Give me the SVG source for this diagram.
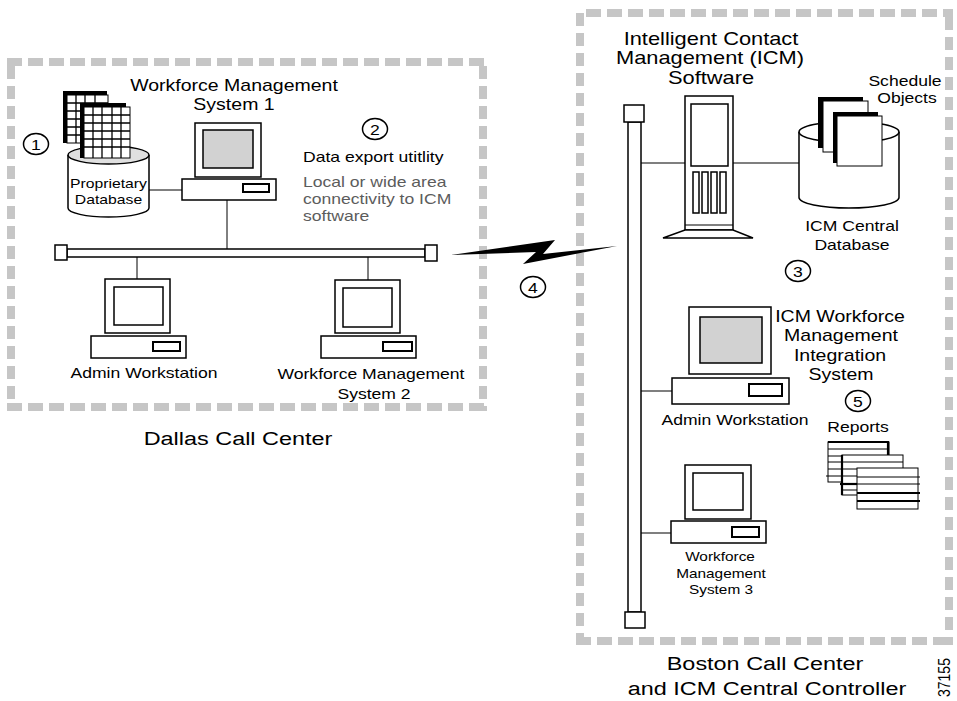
<svg xmlns="http://www.w3.org/2000/svg" width="957" height="701" viewBox="0 0 957 701">
  <style>
    text { font-family: "Liberation Sans", Arial, Helvetica, sans-serif; fill: #000; }
    .t19 { font-size: 19.2px; text-anchor: middle; }
    .t18 { font-size: 17.9px; text-anchor: middle; }
    .t16 { font-size: 16px; text-anchor: middle; }
    .t14 { font-size: 14.4px; text-anchor: middle; }
    .t13 { font-size: 12.9px; text-anchor: middle; }
    .t12 { font-size: 12.6px; text-anchor: middle; }
    .start { text-anchor: start; }
    .grey { fill: #5c5c5c; }
    .num { font-size: 14.4px; text-anchor: middle; }
    .zone-h { stroke: #c6c6c6; stroke-width: 8; stroke-dasharray: 15 6; fill: none; }
    .zone-v { stroke: #c6c6c6; stroke-width: 8; stroke-dasharray: 13 7; fill: none; }
    .box { fill: #fff; stroke: #000; stroke-width: 1.5; }
    .screen-grey { fill: #d2d2d2; stroke: #000; stroke-width: 1.5; }
    .slot { fill: #fff; stroke: #000; stroke-width: 2; }
    .grid { stroke: #000; stroke-width: 1.3; fill: none; }
    .wire { stroke: #000; stroke-width: 1; fill: none; }
    .wire-b { stroke: #555; stroke-width: 1.5; fill: none; }
    .badge { fill: #fff; stroke: #000; stroke-width: 1.5; }
    .sheet-line { stroke: #000; stroke-width: 1; }
    .sheet-thick { stroke: #000; stroke-width: 2.2; }
  </style>

  <!-- site boundaries -->
  <g id="dallas-zone">
    <line class="zone-h" x1="7" y1="62" x2="487" y2="62"/>
    <line class="zone-h" x1="7" y1="407" x2="487" y2="407"/>
    <line class="zone-v" x1="11" y1="66" x2="11" y2="411"/>
    <line class="zone-v" x1="483" y1="66" x2="483" y2="411"/>
    <text class="t19" transform="translate(238 445) scale(1.22 1)">Dallas Call Center</text>
  </g>
  <g id="boston-zone">
    <line class="zone-h" x1="586" y1="13" x2="953" y2="13"/>
    <line class="zone-h" x1="576" y1="641" x2="953" y2="641"/>
    <line class="zone-v" x1="580" y1="13" x2="580" y2="645"/>
    <line class="zone-v" x1="949" y1="17" x2="949" y2="645"/>
    <text class="t19" transform="translate(765 670) scale(1.22 1)">Boston Call Center</text>
    <text class="t19" transform="translate(767 695) scale(1.22 1)">and ICM Central Controller</text>
  </g>

  <!-- connectors -->
  <g id="connectors">
    <line class="wire" x1="227" y1="200" x2="227" y2="249"/>
    <line class="wire" x1="137" y1="257" x2="137" y2="279"/>
    <line class="wire" x1="368" y1="257" x2="368" y2="280"/>
    <line class="wire" x1="149" y1="190" x2="182" y2="190"/>
    <line class="wire-b" x1="641" y1="163" x2="685" y2="163"/>
    <line class="wire-b" x1="733" y1="163" x2="799" y2="163"/>
    <line class="wire-b" x1="641" y1="391" x2="672" y2="391"/>
    <line class="wire-b" x1="641" y1="533" x2="671" y2="533"/>
    <!-- WAN link -->
    <polygon points="451,255 555,240 543,254 617,246 523,264 536,252" fill="#000"/>
  </g>

  <!-- LAN segments -->
  <g id="dallas-lan">
    <rect class="box" x="67" y="249" width="358" height="8"/>
    <rect class="box" x="55" y="245" width="12" height="15"/>
    <rect class="box" x="425" y="245" width="12" height="16"/>
  </g>
  <g id="boston-lan">
    <rect class="box" x="628" y="122" width="13" height="490"/>
    <rect class="box" x="624" y="105" width="20" height="17"/>
    <rect class="box" x="625" y="612" width="20" height="16"/>
  </g>

  <!-- Proprietary database with schedule grids -->
  <g id="proprietary-db">
    <path class="box" d="M68,155 V208 A40.5,9 0 0 0 149,208 V155"/>
    <ellipse cx="108.5" cy="155" rx="40.5" ry="9" fill="#e0e0e0" stroke="#000" stroke-width="1.5"/>
    <rect x="63" y="91" width="44" height="52" fill="#000"/>
    <rect x="67" y="95" width="41" height="48" fill="#fff" stroke="#000" stroke-width="1"/>
    <path class="grid" d="M76,95 V143 M85,95 V143 M95,95 V143 M67,103 H108 M67,111 H108 M67,119 H108 M67,127 H108 M67,135 H108"/>
    <rect x="80" y="103" width="46" height="55" fill="#000"/>
    <rect x="84" y="107" width="46" height="51" fill="#fff" stroke="#000" stroke-width="1"/>
    <path class="grid" d="M93,107 V158 M102,107 V158 M112,107 V158 M121,107 V158 M84,115 H130 M84,123 H130 M84,131 H130 M84,139 H130 M84,147 H130"/>
    <text class="t13" transform="translate(108.5 188) scale(1.22 1)">Proprietary</text>
    <text class="t13" transform="translate(108.5 204) scale(1.22 1)">Database</text>
  </g>
  <g id="badge-1">
    <ellipse class="badge" cx="36" cy="144" rx="12.5" ry="10.5"/>
    <text class="num" transform="translate(36 149.5) scale(1.22 1)">1</text>
  </g>

  <!-- Workforce Management System 1 -->
  <g id="wfm-system-1">
    <text class="t16" transform="translate(234 91) scale(1.22 1)">Workforce Management</text>
    <text class="t16" transform="translate(234 110) scale(1.22 1)">System 1</text>
    <rect class="box" x="195" y="123" width="66" height="54"/>
    <rect class="screen-grey" x="203" y="130" width="50" height="38"/>
    <rect class="box" x="182" y="179" width="94" height="21"/>
    <rect class="slot" x="243" y="184" width="26" height="8"/>
  </g>

  <g id="data-export">
    <ellipse class="badge" cx="375" cy="129" rx="12.5" ry="10.5"/>
    <text class="num" transform="translate(375 134.5) scale(1.22 1)">2</text>
    <text class="t14 start" transform="translate(303 162) scale(1.22 1)">Data export utitlity</text>
    <text class="t14 start grey" transform="translate(303 187) scale(1.22 1)">Local or wide area</text>
    <text class="t14 start grey" transform="translate(303 204) scale(1.22 1)">connectivity to ICM</text>
    <text class="t14 start grey" transform="translate(303 221) scale(1.22 1)">software</text>
  </g>

  <!-- Dallas Admin Workstation -->
  <g id="dallas-admin">
    <rect class="box" x="105" y="279" width="65" height="54"/>
    <rect class="box" x="114" y="287" width="49" height="38"/>
    <rect class="box" x="91" y="336" width="95" height="22"/>
    <rect class="slot" x="153" y="342" width="27" height="9"/>
    <text class="t14" transform="translate(144 378) scale(1.22 1)">Admin Workstation</text>
  </g>

  <!-- Workforce Management System 2 -->
  <g id="wfm-system-2">
    <rect class="box" x="335" y="280" width="65" height="53"/>
    <rect class="box" x="343" y="288" width="49" height="39"/>
    <rect class="box" x="321" y="336" width="95" height="22"/>
    <rect class="slot" x="383" y="342" width="29" height="9"/>
    <text class="t14" transform="translate(371 379) scale(1.22 1)">Workforce Management</text>
    <text class="t14" transform="translate(374 399) scale(1.22 1)">System 2</text>
  </g>

  <g id="badge-4">
    <ellipse class="badge" cx="533" cy="287" rx="12.5" ry="10.5"/>
    <text class="num" transform="translate(533 292.5) scale(1.22 1)">4</text>
  </g>

  <!-- ICM server -->
  <g id="icm-software">
    <text class="t18" transform="translate(711 45) scale(1.22 1)">Intelligent Contact</text>
    <text class="t18" transform="translate(710 64) scale(1.22 1)">Management (ICM)</text>
    <text class="t18" transform="translate(711 84) scale(1.22 1)">Software</text>
    <rect class="box" x="685" y="96" width="48" height="134"/>
    <rect class="box" x="691" y="104" width="37" height="62"/>
    <rect class="box" x="693" y="172" width="6" height="41"/>
    <rect class="box" x="702" y="172" width="6" height="41"/>
    <rect class="box" x="711" y="172" width="6" height="41"/>
    <rect class="box" x="720" y="172" width="6" height="41"/>
    <line class="wire" x1="685" y1="225" x2="733" y2="225"/>
    <polygon class="box" points="685,230 733,230 753,238 663,238"/>
  </g>

  <!-- ICM central database -->
  <g id="icm-central-db">
    <path class="box" d="M799,132 V197.5 A50,10.5 0 0 0 899,197.5 V132"/>
    <ellipse class="box" cx="849" cy="132" rx="50" ry="10.5"/>
    <rect x="818" y="97" width="45" height="51" fill="#000"/>
    <rect x="823" y="101" width="45" height="51" fill="#fff" stroke="#000" stroke-width="1"/>
    <rect x="833" y="112" width="45" height="51" fill="#000"/>
    <rect x="837" y="116" width="45" height="50" fill="#fff" stroke="#000" stroke-width="1"/>
    <text class="t14" transform="translate(905 86) scale(1.22 1)">Schedule</text>
    <text class="t14" transform="translate(907 103) scale(1.22 1)">Objects</text>
    <text class="t14" transform="translate(852 231) scale(1.22 1)">ICM Central</text>
    <text class="t14" transform="translate(852 250) scale(1.22 1)">Database</text>
  </g>

  <g id="badge-3">
    <ellipse class="badge" cx="798" cy="271" rx="12.5" ry="10.5"/>
    <text class="num" transform="translate(798 276.5) scale(1.22 1)">3</text>
  </g>

  <!-- Integration system with admin workstation -->
  <g id="wfm-integration">
    <text class="t16" transform="translate(840 322) scale(1.22 1)">ICM Workforce</text>
    <text class="t16" transform="translate(841 341) scale(1.22 1)">Management</text>
    <text class="t16" transform="translate(840 361) scale(1.22 1)">Integration</text>
    <text class="t16" transform="translate(841 380) scale(1.22 1)">System</text>
  </g>
  <g id="boston-admin">
    <rect class="box" x="689" y="307" width="82" height="67"/>
    <rect class="screen-grey" x="700" y="317" width="62" height="46"/>
    <rect class="box" x="672" y="378" width="117" height="26"/>
    <rect class="slot" x="749" y="384" width="33" height="12"/>
    <text class="t14" transform="translate(735 425) scale(1.22 1)">Admin Workstation</text>
  </g>

  <!-- Reports -->
  <g id="reports">
    <ellipse class="badge" cx="858" cy="401" rx="12.5" ry="10.5"/>
    <text class="num" transform="translate(858 406.5) scale(1.22 1)">5</text>
    <text class="t14" transform="translate(858 432) scale(1.22 1)">Reports</text>
    <rect x="828" y="442" width="61" height="40" fill="#fff" stroke="#000" stroke-width="1"/>
    <line class="sheet-thick" x1="828" y1="442" x2="889" y2="442"/>
    <line class="sheet-thick" x1="888" y1="442" x2="888" y2="455"/>
    <path class="sheet-line" d="M828,449 H889 M828,456 H842 M828,462 H842 M828,469 H842 M826,476 H842"/>
    <rect x="842" y="455" width="61" height="40" fill="#fff" stroke="#000" stroke-width="1"/>
    <line class="sheet-thick" x1="842" y1="455" x2="842" y2="495"/>
    <path class="sheet-line" d="M842,462 H903 M842,469 H857 M842,476 H857 M842,490 H857"/>
    <line class="sheet-thick" x1="840" y1="484" x2="857" y2="484"/>
    <rect x="857" y="468" width="61" height="41" fill="#fff" stroke="#000" stroke-width="1"/>
    <path class="sheet-line" d="M857,477 H920 M857,484 H920"/>
    <path class="sheet-thick" d="M857,493 H920 M857,501 H920"/>
  </g>

  <!-- Workforce Management System 3 -->
  <g id="wfm-system-3">
    <rect class="box" x="685" y="465" width="66" height="54"/>
    <rect class="box" x="693" y="473" width="50" height="37"/>
    <rect class="box" x="671" y="521" width="95" height="22"/>
    <rect class="slot" x="732" y="527" width="27" height="10"/>
    <text class="t12" transform="translate(720 561) scale(1.22 1)">Workforce</text>
    <text class="t12" transform="translate(721 578) scale(1.22 1)">Management</text>
    <text class="t12" transform="translate(721 594) scale(1.22 1)">System 3</text>
  </g>

  <text id="figure-number" font-size="14" transform="translate(950 697) rotate(-90) scale(1 1.15)">37155</text>
</svg>
